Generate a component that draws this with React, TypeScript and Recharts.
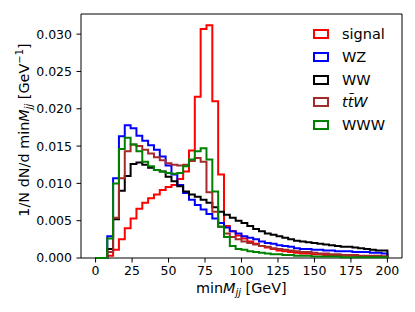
import { LineChart, Line, XAxis, YAxis, ReferenceArea } from "recharts";

// bin edges of the minMjj histogram (GeV), 4 GeV bins
const binEdges = [
  0, 4, 8, 12, 16, 20, 24, 28, 32, 36, 40, 44, 48, 52, 56, 60, 64, 68, 72, 76,
  80, 84, 88, 92, 96, 100, 104, 108, 112, 116, 120, 124, 128, 132, 136, 140,
  144, 148, 152, 156, 160, 164, 168, 172, 176, 180, 184, 188, 192, 196, 200,
];

const xTicks = [0, 25, 50, 75, 100, 125, 150, 175, 200];
const yTicks = [0, 0.005, 0.01, 0.015, 0.02, 0.025, 0.03];

// normalised bin contents, one per bin
const signal = [
  0, 0, 0.0003, 0.0011, 0.0025, 0.004, 0.0053, 0.0066, 0.0074, 0.008,
  0.0085, 0.0091, 0.0095, 0.0098, 0.0106, 0.0116, 0.0144, 0.0216, 0.0307, 0.0312,
  0.021, 0.0112, 0.0043, 0.0036, 0.003, 0.0026, 0.0022, 0.0019, 0.0016, 0.0014,
  0.0012, 0.001, 0.0009, 0.0008, 0.0007, 0.0006, 0.0006, 0.0005, 0.0005, 0.0004,
  0.0004, 0.0003, 0.0003, 0.0003, 0.0003, 0.0002, 0.0002, 0.0002, 0.0002, 0.0002,
];
const wz = [
  0, 0, 0.0029, 0.0107, 0.0163, 0.0178, 0.0174, 0.0164, 0.0157, 0.0151,
  0.0145, 0.0136, 0.0124, 0.0112, 0.0098, 0.0087, 0.0078, 0.0071, 0.0065, 0.0059,
  0.0053, 0.0047, 0.0041, 0.0036, 0.0033, 0.0029, 0.0027, 0.0025, 0.0022, 0.002,
  0.0019, 0.0017, 0.0016, 0.0015, 0.0013, 0.0012, 0.0012, 0.0011, 0.0011, 0.001,
  0.001, 0.0009, 0.0009, 0.0009, 0.0008, 0.0008, 0.0008, 0.0007, 0.0007, 0.0006,
];
const ww = [
  0, 0, 0.0012, 0.0052, 0.009, 0.011, 0.0126, 0.0128, 0.0125, 0.0121,
  0.0118, 0.0116, 0.0109, 0.0103, 0.0096, 0.0089, 0.0085, 0.0082, 0.0078, 0.0074,
  0.0068, 0.0062, 0.0058, 0.0054, 0.005, 0.0047, 0.0043, 0.0039, 0.0036, 0.0033,
  0.0031, 0.0029, 0.0027, 0.0025, 0.0023, 0.0022, 0.0021, 0.002, 0.0019, 0.0018,
  0.0017, 0.0016, 0.0015, 0.0015, 0.0014, 0.0013, 0.0012, 0.0011, 0.001, 0.001,
];
const ttw = [
  0, 0, 0.0008, 0.0054, 0.0107, 0.0143, 0.0152, 0.015, 0.0145, 0.014,
  0.0135, 0.0131, 0.0127, 0.0125, 0.0124, 0.0125, 0.013, 0.0134, 0.0129, 0.0088,
  0.0062, 0.0042, 0.0033, 0.0028, 0.0025, 0.0022, 0.002, 0.0018, 0.0016, 0.0015,
  0.0013, 0.0012, 0.0011, 0.001, 0.0009, 0.0008, 0.0008, 0.0007, 0.0006, 0.0006,
  0.0005, 0.0005, 0.0004, 0.0004, 0.0004, 0.0003, 0.0003, 0.0003, 0.0003, 0.0002,
];
const www = [
  0, 0, 0.0026, 0.01, 0.0146, 0.0161, 0.0152, 0.0143, 0.0129, 0.0123,
  0.0118, 0.0116, 0.0114, 0.0113, 0.0114, 0.0123, 0.0132, 0.0143, 0.0147, 0.0132,
  0.0089, 0.0042, 0.0028, 0.0016, 0.0012, 0.0011, 0.0009, 0.0008, 0.0007, 0.0006,
  0.0005, 0.0005, 0.0004, 0.0004, 0.0003, 0.0003, 0.0003, 0.0002, 0.0002, 0.0002,
  0.0002, 0.0002, 0.0001, 0.0001, 0.0001, 0.0001, 0.0001, 0.0001, 0.0001, 0.0001,
];

const series = [
  { key: "signal", color: "#ff0000", values: signal },
  { key: "wz", color: "#0000ff", values: wz },
  { key: "ww", color: "#000000", values: ww },
  { key: "ttw", color: "#a52a2a", values: ttw },
  { key: "www", color: "#008000", values: www },
];

const FONT = "DejaVu Sans";

// step outline like matplotlib histtype="step": up from 0, across the bins, back down to 0
function buildRows() {
  const rows: Record<string, number>[] = [];
  const last = binEdges.length - 1;
  const row = (x: number, pick: (v: number[]) => number) => {
    const r: Record<string, number> = { x };
    series.forEach((s) => (r[s.key] = pick(s.values)));
    return r;
  };
  rows.push(row(binEdges[0], () => 0));
  for (let i = 0; i < last; i++) rows.push(row(binEdges[i], (v) => v[i]));
  rows.push(row(binEdges[last], (v) => v[last - 1]));
  rows.push(row(binEdges[last], () => 0));
  return rows;
}

function LegendBox() {
  const labels = [
    <span>signal</span>,
    <span>WZ</span>,
    <span>WW</span>,
    <span style={{ fontStyle: "italic" }}>tt&#772;W</span>,
    <span>WWW</span>,
  ];
  return (
    <div
      style={{
        position: "absolute",
        left: 313,
        top: 23,
        fontFamily: FONT,
        fontSize: 14.5,
        color: "#000",
      }}
    >
      {series.map((s, i) => (
        <div key={s.key} style={{ display: "flex", alignItems: "center", height: 22.7 }}>
          <div
            style={{
              width: 16,
              height: 10,
              boxSizing: "border-box",
              border: `2px solid ${s.color}`,
              background: "#fff",
              marginRight: 13,
            }}
          />
          {labels[i]}
        </div>
      ))}
    </div>
  );
}

export default function App() {
  const rows = buildRows();
  return (
    <div style={{ position: "absolute", left: 0, top: 0, width: 415, height: 312, background: "#fff" }}>
      <LineChart width={415} height={312} data={rows} margin={{ top: 14, right: 13, left: 0, bottom: 0 }}>
        <XAxis
          dataKey="x"
          type="number"
          domain={[-10, 210]}
          ticks={xTicks}
          height={54}
          axisLine={false}
          tickSize={4.5}
          tickMargin={4}
          stroke="#000"
          tick={{ fill: "#000", fontSize: 12.5, fontFamily: FONT }}
          label={() => (
            <text x={241.3} y={293} textAnchor="middle" fontFamily={FONT} fontSize={14.4} fill="#000">
              min<tspan fontStyle="italic">M</tspan>
              <tspan fontStyle="italic" fontSize={10} dy={3}>jj</tspan>
              <tspan dy={-3}> [GeV]</tspan>
            </text>
          )}
        />
        <YAxis
          type="number"
          domain={[0, 0.0327]}
          ticks={yTicks}
          width={81}
          axisLine={false}
          tickSize={4.5}
          tickMargin={4.5}
          stroke="#000"
          tick={{ fill: "#000", fontSize: 12.5, fontFamily: FONT }}
          tickFormatter={(v: number) => v.toFixed(3)}
          label={() => (
            <text
              x={0}
              y={0}
              transform="translate(29,130) rotate(-90)"
              textAnchor="middle"
              fontFamily={FONT}
              fontSize={14.4}
              fill="#000"
            >
              1/N dN/d min<tspan fontStyle="italic">M</tspan>
              <tspan fontStyle="italic" fontSize={10} dy={3}>jj</tspan>
              <tspan dy={-3}> [GeV</tspan>
              <tspan fontSize={10} dy={-6}>−1</tspan>
              <tspan dy={6}>]</tspan>
            </text>
          )}
        />
        <ReferenceArea x1={-10} x2={210} y1={0} y2={0.0327} fill="none" stroke="#000" strokeWidth={1} />
        {series.map((s) => (
          <Line
            key={s.key}
            dataKey={s.key}
            type="stepAfter"
            stroke={s.color}
            strokeWidth={2}
            dot={false}
            activeDot={false}
            isAnimationActive={false}
          />
        ))}
      </LineChart>
      <LegendBox />
    </div>
  );
}
